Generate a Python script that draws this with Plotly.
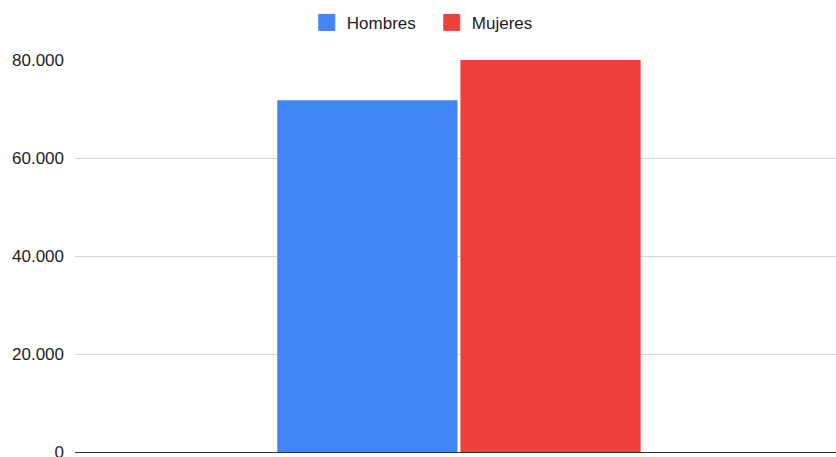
import plotly.graph_objects as go

categories = ["Total"]
series_names = ["Hombres", "Mujeres"]
hombres = [71800]
mujeres = [80000]
tick_vals = [0, 20000, 40000, 60000, 80000]
colors = ["#4285F4", "#EE403D"]

fig = go.Figure()
for name, vals, col in zip(series_names, [hombres, mujeres], colors):
    fig.add_trace(go.Bar(x=categories, y=vals, name=name, showlegend=False,
                         marker=dict(color=col, line=dict(width=0))))
# legend-only entries with larger square swatches
for name, col in zip(series_names, colors):
    fig.add_trace(go.Scatter(x=categories, y=[None], name=name, mode="markers",
                             showlegend=True, hoverinfo="skip",
                             marker=dict(symbol="square", size=16, color=col,
                                         line=dict(width=1, color=col))))

fig.update_layout(
    width=836, height=457,
    margin=dict(l=75, r=0, t=60, b=5, autoexpand=False),
    paper_bgcolor="white", plot_bgcolor="white",
    barmode="group", bargap=0.523, bargroupgap=0.016,
    separators=",.",
    font=dict(family="Liberation Sans, Arial, sans-serif", size=17, color="#222222"),
    showlegend=True,
    legend=dict(orientation="h", xref="container", x=0.5165, xanchor="center",
                yref="container", y=0.95, yanchor="middle",
                font=dict(size=17, color="#222222"), entrywidth=80,
                itemsizing="trace", traceorder="normal"),
    xaxis=dict(showticklabels=False, showgrid=False, showline=True,
               linecolor="#333333", linewidth=1, range=[-0.5, 0.491],
               ticks="", automargin=False),
    yaxis=dict(range=[0, 80000], tickvals=tick_vals, tickformat=",d",
               showgrid=True, gridcolor="#d6d6d6", gridwidth=1,
               zeroline=False, showline=False, ticks="", automargin=False,
               ticklabeloverflow="allow",
               ticklabelstandoff=10, tickfont=dict(size=17, color="#222222")),
)

fig.write_html("out.html")
